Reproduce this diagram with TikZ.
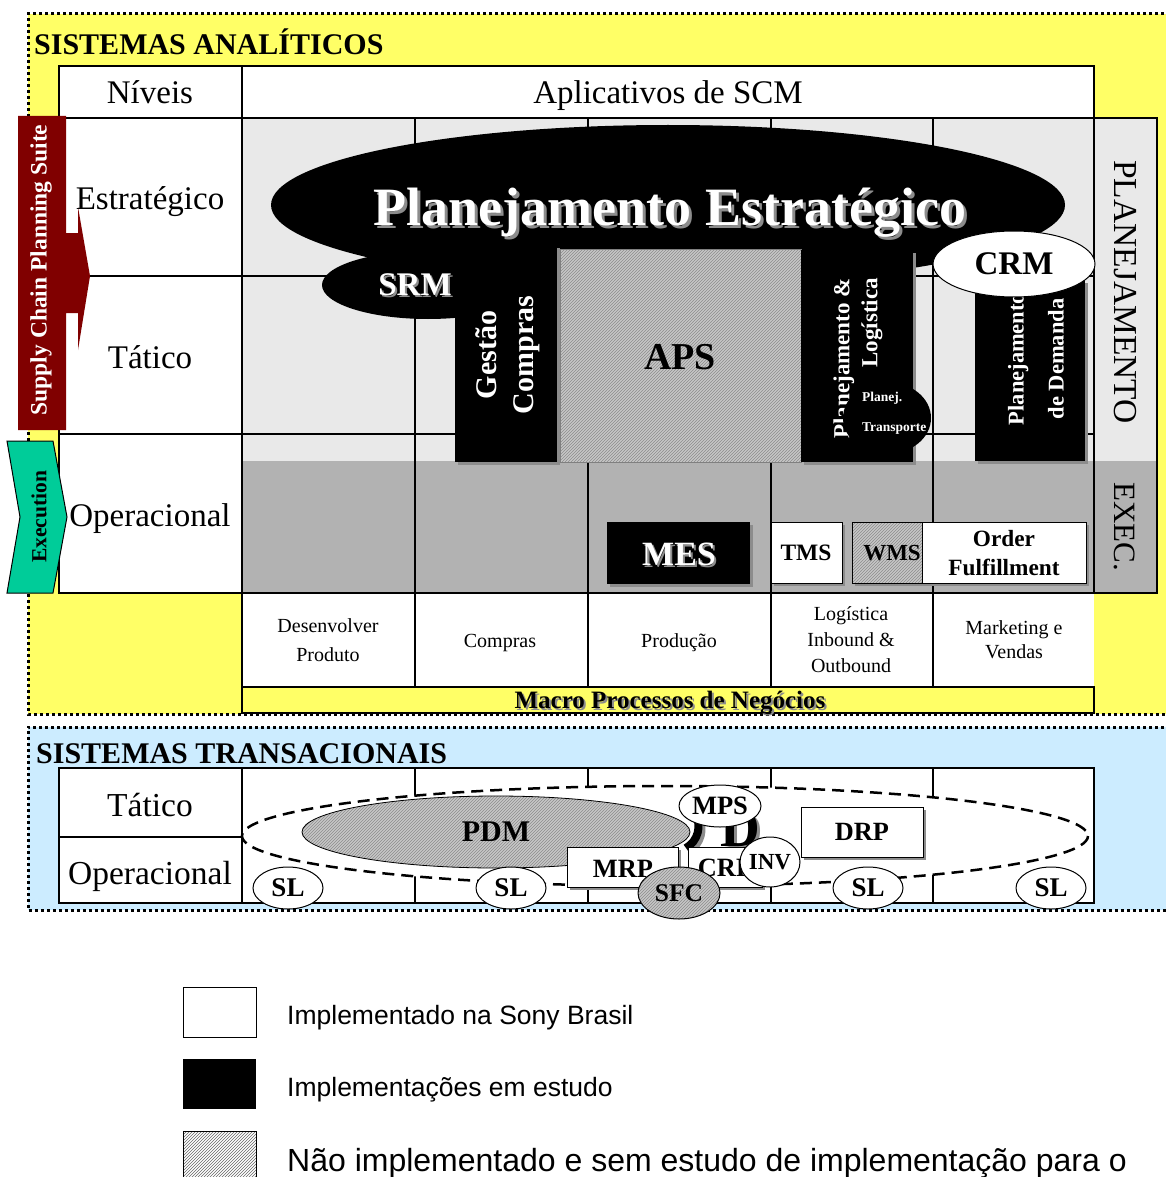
\documentclass[tikz,border=0pt]{standalone}
\usepackage{fontspec}
\setmainfont{Liberation Serif}
\newfontfamily\legendfont{Liberation Sans}
\usetikzlibrary{patterns,shadows}

\definecolor{anayellow}{RGB}{255,255,102}
\definecolor{transblue}{RGB}{204,236,255}
\definecolor{lightcell}{RGB}{233,233,233}
\definecolor{darkcell}{RGB}{178,178,178}
\definecolor{suitered}{RGB}{128,0,0}
\definecolor{execgreen}{RGB}{0,204,153}

\tikzset{
  sz/.style={font=\fontsize{#1}{#1}\selectfont},
  bsz/.style={font=\fontsize{#1}{#1}\selectfont\bfseries},
  dotbox/.style={line width=3pt,dash pattern=on 3pt off 3pt},
  gridline/.style={line width=1.2pt},
  hatch/.style={preaction={fill=black!22},pattern=north east lines,pattern color=black!45},
  boxshadow/.style={drop shadow={fill=black!45,opacity=1,shadow xshift=3pt,shadow yshift=-3pt}},
  wtxt/.style={text=white,inner sep=0},
  stxt/.style={text=black!45,inner sep=0},
  proc/.style={align=center,inner sep=0},
  lvl/.style={sz=33,anchor=base,inner sep=0}
}

\begin{document}
\begin{tikzpicture}[x=1pt,y=-1pt]
\useasboundingbox (0,0) rectangle (1165,1177);

% sistemas analiticos
\fill[anayellow] (28,14) rectangle (1170,714);
\draw[dotbox] (1170,14) -- (28,14) -- (28,714) -- (1170,714);
\node[bsz=30,anchor=base west,inner sep=0] (anatitle) at (34,55) {SISTEMAS ANALÍTICOS};

\fill[white] (59,66) rectangle (1094,118);
\fill[white] (59,118) rectangle (242,593);
\fill[lightcell] (242,118) rectangle (1157,461);
\fill[darkcell] (242,461) rectangle (1157,593);
\fill[white] (242,593) rectangle (1094,687);
\foreach \x in {415,588,771,933}
  \draw[gridline] (\x,118) -- (\x,687);
\foreach \y in {276,434}
  \draw[gridline] (59,\y) -- (1094,\y);
\draw[gridline] (59,66) rectangle (1094,593);
\draw[gridline] (59,118) -- (1094,118);
\draw[gridline] (242,66) -- (242,713);
\draw[gridline,fill=anayellow] (242,687) rectangle (1094,713);
\draw[gridline] (1094,118) rectangle (1157,593);

% planning shapes
\fill (668,205) ellipse (397 and 80);
\fill (428,285) ellipse (106 and 34);
\fill[boxshadow] (455,245) rectangle (557,462);
\draw[hatch,draw=black!50,line width=1pt] (560,249) rectangle (801,462);
\fill[boxshadow] (801,250) rectangle (913,462);
\fill[boxshadow] (975,280) rectangle (1085,461);

\node[bsz=54,stxt,anchor=base] (planshadow) at (673,228) {Planejamento Estratégico};
\node[bsz=54,wtxt,anchor=base] (plantitle) at (670,225) {Planejamento Estratégico};
\node[bsz=33,stxt] (srmshadow) at (417,287) {SRM};
\node[bsz=33,wtxt] (srm) at (415,285) {SRM};
\node[rotate=90,wtxt,align=center,font=\fontsize{30}{37}\selectfont\bfseries] (gestao) at (508,355) {Gestão\\Compras};
\node[bsz=38,inner sep=0] (aps) at (680,357) {APS};
\node[rotate=90,wtxt,anchor=east,align=right,font=\fontsize{23}{28}\selectfont\bfseries] (planlog) at (858,278) {Planejamento \&\\Logística};
\fill (887,418) ellipse (44 and 36);
\node[wtxt,anchor=west,align=left,font=\fontsize{13.5}{30}\selectfont\bfseries] (transp) at (862,413) {Planej.\\Transporte};
\node[rotate=90,wtxt,align=center,font=\fontsize{22.5}{40}\selectfont\bfseries] (demanda) at (1036,359) {Planejamento\\de Demanda};
\draw[fill=white,line width=1pt] (1014,264) ellipse (81 and 33);
\node[bsz=33,inner sep=0] (crm) at (1014,264) {CRM};

\node[rotate=-90,sz=33.5,inner sep=0] (planej) at (1125,292) {PLANEJAMENTO};
\node[rotate=-90,sz=31,inner sep=0] (execcol) at (1125,527) {EXEC.};

% execution boxes
\fill[boxshadow] (607,522) rectangle (750,584);
\node[bsz=34,stxt] (messhadow) at (681,556) {MES};
\node[bsz=34,wtxt] (mes) at (679,554) {MES};
\draw[fill=white,line width=1pt,boxshadow] (771,522) rectangle (842,583);
\node[bsz=23.5,inner sep=0] (tms) at (806,553) {TMS};
\fill[black!45] (855,525) rectangle (928,586);
\draw[hatch,line width=1pt] (852,522) rectangle (925,583);
\node[bsz=23,inner sep=0] (wms) at (892,553) {WMS};
\draw[fill=white,line width=1pt,boxshadow] (922,522) rectangle (1086,583);
\node[proc,font=\fontsize{23.3}{29}\selectfont\bfseries] (order) at (1004,553) {Order\\Fulfillment};

% processos
\node[proc,font=\fontsize{20}{29}\selectfont] (desenv) at (328,640) {Desenvolver\\Produto};
\node[proc,sz=20,anchor=base] (compras) at (500,647) {Compras};
\node[proc,sz=20,anchor=base] (producao) at (679,647) {Produção};
\node[proc,font=\fontsize{20}{26}\selectfont] (logist) at (851,640) {Logística\\Inbound \&\\Outbound};
\node[proc,font=\fontsize{20}{24}\selectfont] (mkt) at (1014,640) {Marketing e\\Vendas};
\node[bsz=25,stxt,anchor=base] (macroshadow) at (672,710) {Macro Processos de Negócios};
\node[bsz=25,inner sep=0,anchor=base] (macro) at (670,708) {Macro Processos de Negócios};

% suite arrows
\fill[suitered] (18,116) -- (66,116) -- (66,233) -- (78,233) -- (78,207) -- (90,276)
  -- (78,350) -- (78,313) -- (66,313) -- (66,430) -- (18,430) -- cycle;
\node[rotate=90,bsz=23.5,wtxt] (suite) at (41,270) {Supply Chain Planning Suite};
\draw[fill=execgreen,line width=1pt] (7,441) -- (53,441) -- (67,517) -- (53,593) -- (7,593) -- (20,517) -- cycle;
\node[rotate=90,bsz=21.5,inner sep=0] (execution) at (39,517) {Execution};

\node[lvl] (niveis) at (150,104) {Níveis};
\node[lvl] (aplic) at (668,104) {Aplicativos de SCM};
\node[lvl] (estrat) at (150,209) {Estratégico};
\node[lvl] (tatico) at (150,368) {Tático};
\node[lvl] (operac) at (150,526) {Operacional};

% sistemas transacionais
\fill[transblue] (28,727) rectangle (1170,910);
\draw[dotbox] (1170,727) -- (28,727) -- (28,910) -- (1170,910);
\node[bsz=30,anchor=base west,inner sep=0] (transtitle) at (36,763) {SISTEMAS TRANSACIONAIS};
\draw[gridline,fill=white] (59,768) rectangle (1094,903);
\draw[gridline] (242,768) -- (242,903);
\draw[gridline] (59,837) -- (242,837);
\foreach \x in {415,588,771,933}
  \draw[gridline] (\x,768) -- (\x,903);
\draw[line width=2.5pt,dash pattern=on 12pt off 7pt,fill=white] (665,836) ellipse (423 and 50);
\node[lvl,sz=33.5] (tatico2) at (150,816) {Tático};
\node[lvl,sz=33.5] (operac2) at (150,884) {Operacional};

\draw[line width=8pt,black!45] (689,851) arc (60:-60:25);
\draw[line width=8pt] (686,848) arc (60:-60:25);
\node[bsz=55,stxt] (dshadow) at (743,832) {D};
\node[bsz=55,inner sep=0] (dglyph) at (740,829) {D};

\draw[hatch,line width=0.8pt] (496,832) ellipse (194 and 36);
\node[bsz=30,inner sep=0] (pdm) at (496,832) {PDM};
\draw[fill=white,line width=1pt,boxshadow] (567,847) rectangle (678,887);
\node[bsz=26.4,inner sep=0] (mrp) at (623,869) {MRP};
\draw[fill=white,line width=1pt,boxshadow] (688,847) rectangle (762,887);
\node[bsz=26.4,inner sep=0] (crp) at (725,868) {CRP};
\draw[fill=white,line width=1pt] (720,806) ellipse (41 and 21);
\node[bsz=26.5,inner sep=0] (mps) at (720,806) {MPS};
\draw[fill=white,line width=1pt] (770,862) ellipse (30 and 25);
\node[bsz=23,inner sep=0] (inv) at (770,862) {INV};
\draw[hatch,line width=1pt] (679,893) ellipse (41 and 26);
\node[bsz=25.5,inner sep=0] (sfc) at (679,893) {SFC};
\draw[fill=white,line width=1pt,boxshadow] (801,807) rectangle (923,857);
\node[bsz=26.3,inner sep=0] (drp) at (862,832) {DRP};
\foreach \x [count=\i] in {288,511,868,1051}
{
\draw[fill=white,line width=1pt] (\x,888) ellipse (35 and 21);
\node[bsz=27,inner sep=0] (sl\i) at (\x,888) {SL};
}

% legenda
\draw[line width=1pt,fill=white] (183,987) rectangle (256,1037);
\fill (183,1059) rectangle (256,1109);
\draw[line width=1pt,pattern=north east lines,pattern color=black!60] (183,1131) rectangle (256,1181);
\node[anchor=base west,inner sep=0,font=\legendfont\fontsize{26.5}{26.5}\selectfont] (leg1) at (287,1024) {Implementado na Sony Brasil};
\node[anchor=base west,inner sep=0,font=\legendfont\fontsize{26.5}{26.5}\selectfont] (leg2) at (287,1096) {Implementações em estudo};
\node[anchor=base west,inner sep=0,font=\legendfont\fontsize{32}{32}\selectfont] (leg3) at (287,1171) {Não implementado e sem estudo de implementação para o};
\end{tikzpicture}
\end{document}
